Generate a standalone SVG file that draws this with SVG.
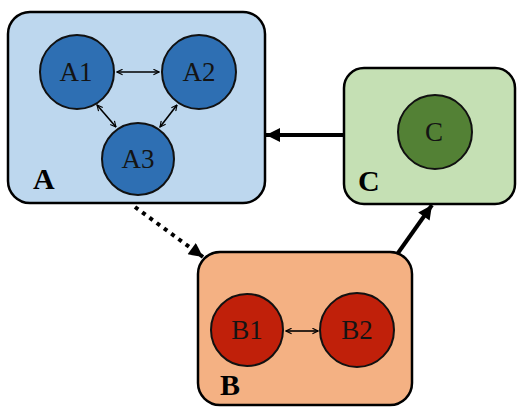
<svg xmlns="http://www.w3.org/2000/svg" width="518" height="407" viewBox="0 0 518 407">
<defs>
<style>
.box{stroke:#000;stroke-width:2.5}
.node{stroke:#111;stroke-width:2}
.nl{font-family:"Liberation Serif",serif;font-size:27px;text-anchor:middle;fill:#141414}
.gl{font-family:"Liberation Serif",serif;font-size:30px;font-weight:bold;fill:#000}
.thin{stroke:#000;stroke-width:1.6;fill:none}
.thick{stroke:#000;stroke-width:4;fill:none}
</style>
<marker id="sm" viewBox="0 0 10 10" refX="9" refY="5" markerWidth="7" markerHeight="7" markerUnits="userSpaceOnUse" orient="auto-start-reverse">
<path d="M1,1 L9,5 L1,9" fill="none" stroke="#000" stroke-width="1.6"/>
</marker>
<marker id="big" viewBox="0 0 10 10" refX="10" refY="5" markerWidth="16" markerHeight="14" markerUnits="userSpaceOnUse" orient="auto">
<path d="M0,0 L10,5 L0,10 Z" fill="#000"/>
</marker>
</defs>
<g id="A">
<rect class="box" x="8" y="12" width="257" height="191" rx="22" fill="#bdd7ee"/>
<text class="gl" x="33" y="189">A</text>
</g>
<g id="A1"><circle class="node" cx="77" cy="72" r="37" fill="#2e6fb3"/><text class="nl" x="76" y="81">A1</text></g>
<g id="A2"><circle class="node" cx="199" cy="72" r="37" fill="#2e6fb3"/><text class="nl" x="199" y="81">A2</text></g>
<g id="A3"><circle class="node" cx="138" cy="159" r="36" fill="#2e6fb3"/><text class="nl" x="138" y="168">A3</text></g>
<g id="C">
<rect class="box" x="344" y="68" width="171" height="136" rx="20" fill="#c5e0b4"/>
<text class="gl" x="358" y="191">C</text>
</g>
<g id="Cn"><circle class="node" cx="435" cy="132" r="37" fill="#538135"/><text class="nl" x="434" y="141">C</text></g>
<g id="B">
<rect class="box" x="198" y="252" width="214" height="153" rx="22" fill="#f4b183"/>
<text class="gl" x="220" y="395">B</text>
</g>
<g id="B1"><circle class="node" cx="247" cy="330" r="36" fill="#c0200a"/><text class="nl" x="247" y="339">B1</text></g>
<g id="B2"><circle class="node" cx="357" cy="330" r="37" fill="#c0200a"/><text class="nl" x="357" y="339">B2</text></g>
<g id="connectors">
<line class="thin" x1="117" y1="72" x2="159" y2="72" marker-start="url(#sm)" marker-end="url(#sm)"/>
<line class="thin" x1="97" y1="105" x2="116" y2="127" marker-start="url(#sm)" marker-end="url(#sm)"/>
<line class="thin" x1="177" y1="105" x2="160" y2="127" marker-start="url(#sm)" marker-end="url(#sm)"/>
<line class="thin" x1="286" y1="331" x2="318" y2="331" marker-start="url(#sm)" marker-end="url(#sm)"/>
<line class="thick" x1="343" y1="135" x2="266" y2="135" marker-end="url(#big)"/>
<line class="thick" x1="398" y1="253" x2="432" y2="205" marker-end="url(#big)"/>
<line class="thick" x1="135" y1="207" x2="203" y2="257" stroke-dasharray="4 5" marker-end="url(#big)"/>
</g>
</svg>
